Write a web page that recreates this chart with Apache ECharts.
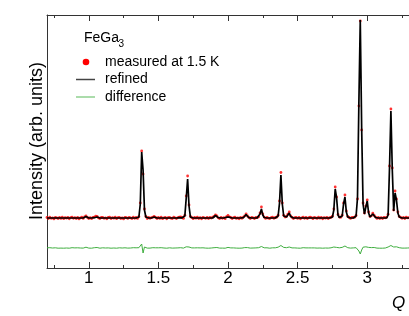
<!DOCTYPE html>
<html>
<head>
<meta charset="utf-8">
<script src="https://cdn.jsdelivr.net/npm/echarts@6/dist/echarts.min.js"></script>
<style>
html,body{margin:0;padding:0;background:#fff;}
#chart{width:409px;height:316px;}
</style>
</head>
<body>
<div id="chart"></div>
<script>
// Q grid (x values)
const qValues = [
0.70,0.71,0.72,0.73,0.74,0.75,0.76,0.77,0.78,0.79,
0.80,0.81,0.82,0.83,0.84,0.85,0.86,0.87,0.88,0.89,
0.90,0.91,0.92,0.93,0.94,0.95,0.96,0.97,0.98,0.99,
1.00,1.01,1.02,1.03,1.04,1.05,1.06,1.07,1.08,1.09,
1.10,1.11,1.12,1.13,1.14,1.15,1.16,1.17,1.18,1.19,
1.20,1.21,1.22,1.23,1.24,1.25,1.26,1.27,1.28,1.29,
1.30,1.31,1.32,1.33,1.34,1.35,1.36,1.37,1.38,1.39,
1.40,1.41,1.42,1.43,1.44,1.45,1.46,1.47,1.48,1.49,
1.50,1.51,1.52,1.53,1.54,1.55,1.56,1.57,1.58,1.59,
1.60,1.61,1.62,1.63,1.64,1.65,1.66,1.67,1.68,1.69,
1.70,1.71,1.72,1.73,1.74,1.75,1.76,1.77,1.78,1.79,
1.80,1.81,1.82,1.83,1.84,1.85,1.86,1.87,1.88,1.89,
1.90,1.91,1.92,1.93,1.94,1.95,1.96,1.97,1.98,1.99,
2.00,2.01,2.02,2.03,2.04,2.05,2.06,2.07,2.08,2.09,
2.10,2.11,2.12,2.13,2.14,2.15,2.16,2.17,2.18,2.19,
2.20,2.21,2.22,2.23,2.24,2.25,2.26,2.27,2.28,2.29,
2.30,2.31,2.32,2.33,2.34,2.35,2.36,2.37,2.38,2.39,
2.40,2.41,2.42,2.43,2.44,2.45,2.46,2.47,2.48,2.49,
2.50,2.51,2.52,2.53,2.54,2.55,2.56,2.57,2.58,2.59,
2.60,2.61,2.62,2.63,2.64,2.65,2.66,2.67,2.68,2.69,
2.70,2.71,2.72,2.73,2.74,2.75,2.76,2.77,2.78,2.79,
2.80,2.81,2.82,2.83,2.84,2.85,2.86,2.87,2.88,2.89,
2.90,2.91,2.92,2.93,2.94,2.95,2.96,2.97,2.98,2.99,
3.00,3.01,3.02,3.03,3.04,3.05,3.06,3.07,3.08,3.09,
3.10,3.11,3.12,3.13,3.14,3.15,3.16,3.17,3.18,3.19,
3.20,3.21,3.22,3.23,3.24,3.25,3.26,3.27,3.28,3.29,
3.30
];

// measured intensity at 1.5 K (arb. units)
const measured = [
0.5,-0.6,0.8,-0.3,0.2,-0.9,0.6,0.1,-0.5,0.7,
-0.4,0.9,-0.7,0.3,-0.2,0.6,-0.8,0.4,0.9,-0.3,
0.3,-0.6,0.7,-0.9,0.2,0.8,-0.4,1.2,2.2,0.6,
-0.5,0.4,-0.7,0.6,0.9,1.8,1.5,0.1,-0.6,0.5,
0.7,-0.3,0.2,-0.8,0.5,0.9,-0.6,0.3,-0.2,0.8,
-0.7,0.4,0.6,-0.5,0.1,-0.9,0.7,0.3,-0.4,0.6,
0.2,-0.6,0.8,-0.3,0.5,-0.4,1.3,15,67,44,
9,1.5,-0.5,0.7,-0.3,0.4,0.8,1.6,0.5,-0.6,
0.6,-0.4,0.9,-0.7,0.2,0.5,-0.8,0.3,0.7,-0.2,
-0.5,0.8,0.1,-0.6,0.4,0.9,1.0,0.3,-0.4,2.8,
22,42,13,1.5,0.3,-0.7,0.5,-0.2,0.8,-0.5,
0.4,-0.8,0.6,0.2,-0.3,0.7,-0.6,0.5,-0.1,0.9,
1.5,3.2,2.0,0.2,-0.5,0.6,-0.3,0.4,-0.7,1.4,
2.6,1.2,0.5,-0.6,0.3,0.8,-0.4,0.2,-0.8,0.6,
-0.3,0.9,2.1,4.2,2.0,0.6,-0.5,0.7,0.2,-0.6,
0.5,0.3,1.2,5,11,4,0.9,-0.4,0.6,-0.2,
-0.6,0.4,0.8,-0.3,0.6,0.8,2.8,17,45.5,15,
2.7,0.9,1.6,3.8,6,2.2,0.6,-0.5,0.3,0.7,
-0.4,0.6,-0.8,0.2,0.9,-0.3,0.5,-0.6,0.3,0.8,
0.3,-0.7,0.5,0.1,-0.4,0.8,-0.2,0.6,-0.8,0.4,
-0.2,0.7,-0.5,0.4,0.6,1.8,9,31,21,3.6,
0.9,0.7,2.8,15,23,7,1.5,0.5,-0.4,0.6,
0.5,0.8,2.6,19,112,197,88,15,5,12,
18,6,1.6,2.2,4.8,2.6,0.9,-0.4,0.5,-0.6,
0.4,-0.6,0.7,0.2,0.9,3.8,52,109,50,8,
27,19,6,1.6,0.7,-0.3,0.6,-0.5,0.8,0.2,
0.3
];

// refined (calculated) profile
const refined = [
0,0,0,0,0,0,0,0,0,0,
0,0,0,0,0,0,0,0,0,0,
0,0,0,0,0,0,0,0.5,1.5,0.5,
0,0,0,0,0.3,1.2,1.0,0.3,0,0,
0,0,0,0,0,0,0,0,0,0,
0,0,0,0,0,0,0,0,0,0,
0,0,0,0,0,0,1,14,66,48,
8,1,0,0,0,0,0.3,1,0.3,0,
0,0,0,0,0,0,0,0,0,0,
0,0,0,0,0,0.3,0.5,0.2,0,2,
20,39,12,1,0,0,0,0,0,0,
0,0,0,0,0,0,0,0,0,0,
0.8,2.5,1.5,0.3,0,0,0,0,0,0.8,
2,0.8,0,0,0,0,0,0,0,0,
0,0.3,1.5,3.5,1.5,0.3,0,0,0,0,
0,0.2,0.6,4,9,3,0.5,0,0,0,
0,0,0,0,0,0.3,2,15,43,14,
2,0.5,1,3,5,1.5,0.3,0,0,0,
0,0,0,0,0,0,0,0,0,0,
0,0,0,0,0,0,0,0,0,0,
0,0,0,0,0,1,8,29,20,3,
0.5,0.3,2,14,21,6,1,0.2,0,0,
0,0.3,2,20,115,198,90,14,4,11,
17,5,1,1.5,4,2,0.5,0,0,0,
0,0,0,0,0,3,50,107,48,7,
25,18,5,1,0.3,0,0,0,0,0,
0
];

// difference (measured - refined)
const difference = [
0.2,-0.2,0.3,-0.1,0,-0.3,0.2,0,-0.2,0.2,
-0.1,0.3,-0.2,0.1,0,0.2,-0.2,0.1,0.3,-0.1,
0.1,-0.2,0.2,-0.3,0,0.2,-0.1,0.4,0.8,0.2,
-0.1,0.1,-0.2,0.2,0.3,0.6,0.5,0,-0.2,0.1,
0.2,-0.1,0,-0.3,0.1,0.3,-0.2,0.1,0,0.2,
-0.2,0.1,0.2,-0.1,0,-0.3,0.2,0.1,-0.1,0.2,
0,-0.2,0.3,-0.1,0.2,0,0.3,1,4,-5,
1,0.3,-0.1,0.2,-0.1,0.1,0.3,0.5,0.2,-0.2,
0.2,-0.1,0.3,-0.2,0,0.1,-0.2,0.1,0.2,0,
-0.1,0.2,0,-0.2,0.1,0.3,0.3,0.1,-0.1,0.4,
1.2,2,1,0.4,0.1,-0.2,0.1,0,0.2,-0.1,
0.1,-0.2,0.2,0,-0.1,0.2,-0.2,0.1,0,0.3,
0.3,0.7,0.5,0.1,-0.1,0.2,-0.1,0.1,-0.2,0.4,
0.6,0.3,0.1,-0.2,0.1,0.2,-0.1,0,-0.2,0.2,
-0.1,0.2,0.4,0.6,0.4,0.1,-0.1,0.2,0,-0.2,
0.1,0.1,0.3,0.8,1.5,0.8,0.2,-0.1,0.2,0,
-0.2,0.1,0.2,-0.1,0.2,0.3,0.8,1.5,2.5,1.2,
0.6,0.2,0.3,0.6,1,0.4,0.1,-0.1,0.1,0.2,
-0.1,0.2,-0.2,0,0.3,-0.1,0.1,-0.2,0.1,0.2,
0.1,-0.2,0.1,0,-0.1,0.2,0,0.2,-0.2,0.1,
0,0.2,-0.1,0.1,0.2,0.4,1,1.2,0.6,0.3,
0.2,0.1,0.6,1.2,2,0.8,0.3,0.1,-0.1,0.2,
0.1,0.2,0.3,-1,-3,-6,-2,0.8,1,1.2,
1,0.6,0.3,0.4,0.8,0.5,0.2,-0.1,0.1,-0.2,
0.1,-0.2,0.2,0,0.4,1,1.5,2.5,0.5,1,
2.5,1.2,0.6,0.3,0.1,-0.1,0.2,-0.1,0.2,0,
0.1
];

const majorTicks = [1, 1.5, 2, 2.5, 3];
const minorTicks = [0.75, 1.25, 1.75, 2.25, 2.75, 3.25];
const DIFF_OFFSET = -30;

const pairs = (ys, off) => qValues.map((q, i) => [q, ys[i] + (off || 0)]);

const axisColor = '#333';
const FONT = 'Liberation Sans, Arial, Helvetica, sans-serif';

function xAx(pos, ticks, len, showLine, labels) {
  return {
    type: 'value', position: pos, min: 0.7, max: 3.3,
    axisLine: { show: showLine, onZero: false, lineStyle: { color: axisColor, width: 1 } },
    axisTick: { show: true, inside: true, length: len, customValues: ticks, lineStyle: { color: axisColor, width: 1 } },
    axisLabel: labels ? {
      show: true, customValues: ticks, margin: 2, color: '#000', fontSize: 17, fontFamily: FONT,
      formatter: v => String(v)
    } : { show: false },
    splitLine: { show: false }
  };
}

const chart = echarts.init(document.getElementById('chart'), null, { renderer: 'canvas' });
chart.setOption({
  animation: false,
  backgroundColor: '#fff',
  grid: { left: 47, top: 15, right: -2, bottom: 48, containLabel: false },
  xAxis: [
    xAx('bottom', majorTicks, 6, true, true),
    xAx('bottom', minorTicks, 3, false, false),
    xAx('top', majorTicks, 6, true, false),
    xAx('top', minorTicks, 3, false, false)
  ],
  yAxis: {
    type: 'value', min: -50, max: 203,
    axisLine: { show: true, lineStyle: { color: axisColor, width: 1 } },
    axisTick: { show: false }, axisLabel: { show: false }, splitLine: { show: false }
  },
  series: [
    {
      name: 'difference', type: 'line', data: pairs(difference, DIFF_OFFSET),
      showSymbol: false, symbol: 'none', lineStyle: { color: '#3fae3f', width: 1 }, z: 2
    },
    {
      name: 'measured at 1.5 K', type: 'scatter', data: pairs(measured),
      symbol: 'circle', symbolSize: 2.8, itemStyle: { color: '#ff0000' }, z: 3
    },
    {
      name: 'refined', type: 'line', data: pairs(refined),
      showSymbol: false, symbol: 'none', lineStyle: { color: '#000', width: 1.7 }, z: 4
    }
  ],
  graphic: [
    { type: 'text', x: 37, y: 141, rotation: Math.PI / 2,
      style: { text: 'Intensity (arb. units)', fontSize: 18, fontFamily: FONT, fill: '#000', align: 'center', verticalAlign: 'middle' } },
    { type: 'text', x: 392, y: 303,
      style: { text: 'Q', fontSize: 17, fontStyle: 'italic', fontFamily: FONT, fill: '#000', align: 'left', verticalAlign: 'middle' } },
    { type: 'text', x: 84, y: 38,
      style: { text: 'FeGa', fontSize: 14, fontFamily: FONT, fill: '#000', align: 'left', verticalAlign: 'middle' } },
    { type: 'text', x: 118.5, y: 44,
      style: { text: '3', fontSize: 10, fontFamily: FONT, fill: '#000', align: 'left', verticalAlign: 'middle' } },
    { type: 'circle', shape: { cx: 86, cy: 62, r: 3.3 }, style: { fill: '#ff0000' } },
    { type: 'text', x: 105, y: 62,
      style: { text: 'measured at 1.5 K', fontSize: 14, fontFamily: FONT, fill: '#000', align: 'left', verticalAlign: 'middle' } },
    { type: 'line', shape: { x1: 76, y1: 79.5, x2: 95, y2: 79.5 }, style: { stroke: '#444', lineWidth: 1.5 } },
    { type: 'text', x: 105, y: 79.5,
      style: { text: 'refined', fontSize: 14, fontFamily: FONT, fill: '#000', align: 'left', verticalAlign: 'middle' } },
    { type: 'line', shape: { x1: 76, y1: 97, x2: 95, y2: 97 }, style: { stroke: '#8fd18f', lineWidth: 1.5 } },
    { type: 'text', x: 105, y: 97,
      style: { text: 'difference', fontSize: 14, fontFamily: FONT, fill: '#000', align: 'left', verticalAlign: 'middle' } }
  ]
});
</script>
</body>
</html>
